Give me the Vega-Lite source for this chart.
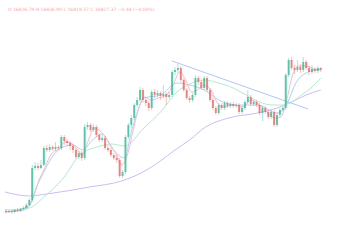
{
  "$schema": "https://vega.github.io/schema/vega-lite/v6.json",
  "width": 350,
  "height": 250,
  "autosize": {"type": "fit", "contains": "padding"},
  "padding": 0,
  "background": "#ffffff",
  "config": {"view": {"stroke": null}},
  "datasets": {
    "candles": [
      {"t":1,"o":39,"c":38,"h":41,"l":37},{"t":4,"o":38,"c":39,"h":40,"l":37},{"t":7,"o":39,"c":38,"h":40,"l":36},
      {"t":10,"o":38,"c":40,"h":41,"l":37},{"t":13,"o":40,"c":39,"h":42,"l":38},{"t":16,"o":39,"c":41,"h":42,"l":38},
      {"t":19,"o":41,"c":42,"h":44,"l":40},{"t":22,"o":42,"c":45,"h":47,"l":41},{"t":25,"o":45,"c":50,"h":52,"l":44},
      {"t":28,"o":50,"c":82,"h":85,"l":48},{"t":31,"o":82,"c":84,"h":88,"l":80},{"t":34,"o":84,"c":82,"h":87,"l":80},
      {"t":37,"o":82,"c":85,"h":90,"l":81},{"t":40,"o":85,"c":102,"h":104,"l":84},{"t":43,"o":102,"c":100,"h":105,"l":98},
      {"t":46,"o":100,"c":103,"h":106,"l":98},{"t":49,"o":103,"c":101,"h":105,"l":99},{"t":52,"o":101,"c":103,"h":108,"l":99},
      {"t":55,"o":103,"c":102,"h":105,"l":100},{"t":58,"o":102,"c":113,"h":115,"l":100},{"t":61,"o":113,"c":109,"h":115,"l":105},
      {"t":64,"o":109,"c":107,"h":111,"l":104},{"t":67,"o":107,"c":104,"h":109,"l":100},{"t":70,"o":104,"c":100,"h":106,"l":97},
      {"t":73,"o":100,"c":93,"h":102,"l":91},{"t":76,"o":93,"c":97,"h":99,"l":91},{"t":79,"o":97,"c":92,"h":99,"l":89},
      {"t":82,"o":92,"c":123,"h":126,"l":90},{"t":85,"o":123,"c":125,"h":128,"l":120},{"t":88,"o":125,"c":120,"h":127,"l":118},
      {"t":91,"o":120,"c":123,"h":126,"l":118},{"t":94,"o":123,"c":115,"h":125,"l":113},{"t":97,"o":115,"c":110,"h":117,"l":108},
      {"t":100,"o":110,"c":112,"h":115,"l":108},{"t":103,"o":112,"c":102,"h":114,"l":100},{"t":106,"o":102,"c":100,"h":105,"l":98},
      {"t":109,"o":100,"c":95,"h":102,"l":93},{"t":112,"o":95,"c":92,"h":97,"l":90},{"t":115,"o":92,"c":90,"h":95,"l":87},
      {"t":118,"o":90,"c":74,"h":92,"l":72},{"t":121,"o":74,"c":78,"h":80,"l":72},{"t":124,"o":78,"c":113,"h":115,"l":76},
      {"t":127,"o":113,"c":125,"h":127,"l":111},{"t":130,"o":125,"c":132,"h":135,"l":122},{"t":133,"o":132,"c":145,"h":147,"l":130},
      {"t":136,"o":145,"c":150,"h":153,"l":143},{"t":139,"o":150,"c":160,"h":163,"l":148},{"t":142,"o":160,"c":150,"h":162,"l":147},
      {"t":145,"o":150,"c":147,"h":153,"l":144},{"t":148,"o":147,"c":142,"h":149,"l":139},{"t":151,"o":142,"c":158,"h":160,"l":140},
      {"t":154,"o":158,"c":155,"h":161,"l":152},{"t":157,"o":155,"c":157,"h":160,"l":153},{"t":160,"o":157,"c":154,"h":159,"l":150},
      {"t":163,"o":154,"c":156,"h":165,"l":152},{"t":166,"o":156,"c":153,"h":158,"l":145},{"t":169,"o":153,"c":155,"h":158,"l":151},
      {"t":172,"o":155,"c":178,"h":180,"l":153},{"t":175,"o":178,"c":180,"h":183,"l":175},{"t":178,"o":180,"c":182,"h":186,"l":177},
      {"t":181,"o":182,"c":170,"h":184,"l":168},{"t":184,"o":170,"c":160,"h":172,"l":158},{"t":187,"o":160,"c":152,"h":162,"l":150},
      {"t":190,"o":152,"c":150,"h":154,"l":147},{"t":193,"o":150,"c":155,"h":157,"l":148},{"t":196,"o":155,"c":172,"h":175,"l":153},
      {"t":199,"o":172,"c":168,"h":174,"l":165},{"t":202,"o":168,"c":162,"h":170,"l":160},{"t":205,"o":162,"c":172,"h":174,"l":160},
      {"t":208,"o":172,"c":160,"h":174,"l":158},{"t":211,"o":160,"c":150,"h":162,"l":148},{"t":214,"o":150,"c":142,"h":152,"l":140},
      {"t":217,"o":142,"c":137,"h":144,"l":135},{"t":220,"o":137,"c":145,"h":147,"l":135},{"t":223,"o":145,"c":142,"h":147,"l":140},
      {"t":226,"o":142,"c":147,"h":149,"l":140},{"t":229,"o":147,"c":144,"h":149,"l":142},{"t":232,"o":144,"c":146,"h":148,"l":142},
      {"t":235,"o":146,"c":144,"h":148,"l":142},{"t":238,"o":144,"c":145,"h":147,"l":142},{"t":241,"o":145,"c":138,"h":147,"l":136},
      {"t":244,"o":138,"c":142,"h":144,"l":136},{"t":247,"o":142,"c":148,"h":150,"l":140},{"t":250,"o":148,"c":153,"h":160,"l":146},
      {"t":253,"o":153,"c":146,"h":155,"l":144},{"t":256,"o":146,"c":148,"h":150,"l":144},{"t":259,"o":148,"c":145,"h":150,"l":143},
      {"t":262,"o":145,"c":137,"h":147,"l":135},{"t":265,"o":137,"c":142,"h":144,"l":129},{"t":268,"o":142,"c":138,"h":144,"l":136},
      {"t":271,"o":138,"c":133,"h":140,"l":131},{"t":274,"o":133,"c":138,"h":140,"l":131},{"t":277,"o":138,"c":125,"h":140,"l":123},
      {"t":280,"o":125,"c":135,"h":137,"l":123},{"t":283,"o":135,"c":140,"h":142,"l":133},{"t":286,"o":140,"c":142,"h":144,"l":138},
      {"t":289,"o":142,"c":175,"h":177,"l":140},{"t":292,"o":175,"c":190,"h":192,"l":173},{"t":295,"o":190,"c":182,"h":193,"l":180},
      {"t":298,"o":182,"c":180,"h":185,"l":176},{"t":301,"o":180,"c":183,"h":190,"l":178},{"t":304,"o":183,"c":180,"h":186,"l":177},
      {"t":307,"o":180,"c":188,"h":193,"l":178},{"t":310,"o":188,"c":182,"h":190,"l":180},{"t":313,"o":182,"c":178,"h":184,"l":175},
      {"t":316,"o":178,"c":181,"h":185,"l":176},{"t":319,"o":181,"c":179,"h":183,"l":177},{"t":322,"o":179,"c":182,"h":184,"l":177},
      {"t":325,"o":182,"c":180,"h":183,"l":178}
    ],
    "mas": [
      {"s":"MA200","t":0,"v":58},{"s":"MA200","t":25,"v":54},{"s":"MA200","t":43,"v":56},{"s":"MA200","t":87,"v":63},
      {"s":"MA200","t":120,"v":69},{"s":"MA200","t":140,"v":77},{"s":"MA200","t":160,"v":89},{"s":"MA200","t":175,"v":100},
      {"s":"MA200","t":190,"v":110},{"s":"MA200","t":205,"v":122},{"s":"MA200","t":230,"v":132},{"s":"MA200","t":260,"v":137},
      {"s":"MA200","t":280,"v":142},{"s":"MA200","t":295,"v":148},{"s":"MA200","t":310,"v":155},{"s":"MA200","t":325,"v":160},
      {"s":"MA50","t":0,"v":40},{"s":"MA50","t":25,"v":42},{"s":"MA50","t":40,"v":53},{"s":"MA50","t":60,"v":72},
      {"s":"MA50","t":77,"v":95},{"s":"MA50","t":95,"v":103},{"s":"MA50","t":110,"v":106},{"s":"MA50","t":123,"v":104},
      {"s":"MA50","t":143,"v":122},{"s":"MA50","t":160,"v":138},{"s":"MA50","t":177,"v":158},{"s":"MA50","t":190,"v":166},
      {"s":"MA50","t":205,"v":170},{"s":"MA50","t":220,"v":167},{"s":"MA50","t":235,"v":162},{"s":"MA50","t":250,"v":154},
      {"s":"MA50","t":262,"v":148},{"s":"MA50","t":275,"v":145},{"s":"MA50","t":285,"v":145},{"s":"MA50","t":295,"v":148},
      {"s":"MA50","t":305,"v":155},{"s":"MA50","t":315,"v":162},{"s":"MA50","t":325,"v":172},
      {"s":"MA20","t":0,"v":38},{"s":"MA20","t":25,"v":44},{"s":"MA20","t":32,"v":62},{"s":"MA20","t":40,"v":78},
      {"s":"MA20","t":50,"v":95},{"s":"MA20","t":60,"v":103},{"s":"MA20","t":70,"v":105},{"s":"MA20","t":80,"v":100},
      {"s":"MA20","t":90,"v":110},{"s":"MA20","t":100,"v":116},{"s":"MA20","t":110,"v":102},{"s":"MA20","t":123,"v":92},
      {"s":"MA20","t":130,"v":118},{"s":"MA20","t":137,"v":140},{"s":"MA20","t":143,"v":152},{"s":"MA20","t":160,"v":155},
      {"s":"MA20","t":177,"v":167},{"s":"MA20","t":190,"v":165},{"s":"MA20","t":205,"v":160},{"s":"MA20","t":220,"v":150},
      {"s":"MA20","t":240,"v":145},{"s":"MA20","t":260,"v":145},{"s":"MA20","t":280,"v":137},{"s":"MA20","t":290,"v":146},
      {"s":"MA20","t":300,"v":168},{"s":"MA20","t":312,"v":178},{"s":"MA20","t":325,"v":181},
      {"s":"MA10","t":0,"v":38},{"s":"MA10","t":20,"v":40},{"s":"MA10","t":30,"v":55},{"s":"MA10","t":35,"v":70},
      {"s":"MA10","t":40,"v":80},{"s":"MA10","t":47,"v":95},{"s":"MA10","t":55,"v":101},{"s":"MA10","t":62,"v":108},
      {"s":"MA10","t":68,"v":107},{"s":"MA10","t":75,"v":100},{"s":"MA10","t":80,"v":95},{"s":"MA10","t":86,"v":110},
      {"s":"MA10","t":92,"v":122},{"s":"MA10","t":100,"v":117},{"s":"MA10","t":108,"v":106},{"s":"MA10","t":115,"v":95},
      {"s":"MA10","t":120,"v":85},{"s":"MA10","t":126,"v":95},{"s":"MA10","t":132,"v":120},{"s":"MA10","t":138,"v":143},
      {"s":"MA10","t":144,"v":153},{"s":"MA10","t":150,"v":150},{"s":"MA10","t":158,"v":152},{"s":"MA10","t":166,"v":155},
      {"s":"MA10","t":173,"v":165},{"s":"MA10","t":180,"v":178},{"s":"MA10","t":186,"v":170},{"s":"MA10","t":192,"v":158},
      {"s":"MA10","t":198,"v":160},{"s":"MA10","t":205,"v":165},{"s":"MA10","t":212,"v":160},{"s":"MA10","t":218,"v":148},
      {"s":"MA10","t":225,"v":143},{"s":"MA10","t":235,"v":145},{"s":"MA10","t":245,"v":143},{"s":"MA10","t":253,"v":150},
      {"s":"MA10","t":262,"v":145},{"s":"MA10","t":270,"v":138},{"s":"MA10","t":278,"v":132},{"s":"MA10","t":284,"v":133},
      {"s":"MA10","t":290,"v":150},{"s":"MA10","t":296,"v":175},{"s":"MA10","t":302,"v":184},{"s":"MA10","t":310,"v":184},
      {"s":"MA10","t":318,"v":181},{"s":"MA10","t":325,"v":180}
    ],
    "trend": [{"t":172,"v":189},{"t":312,"v":141}],
    "header": [{"t":3,"v":240,"label":"O 16826.79  H 16836.90  L 16818.37  C 16827.37  −0.44 (−0.00%)"}]
  },
  "encoding": {
    "x": {"field": "t", "type": "quantitative", "scale": {"domain": [0, 350], "nice": false, "zero": false}, "axis": null}
  },
  "layer": [
    {
      "mark": {"type": "rule", "color": "#f7c4c4", "strokeDash": [2, 2], "strokeWidth": 1},
      "encoding": {"x": {"datum": 0}, "x2": {"datum": 350}, "y": {"datum": 181, "scale": {"domain": [0, 250], "nice": false, "zero": false}, "axis": null}}
    },
    {
      "mark": {"type": "rule", "color": "#e6e6e6", "strokeWidth": 1},
      "encoding": {"x": {"datum": 0}, "x2": {"datum": 350}, "y": {"datum": 1}}
    },
    {
      "data": {"name": "mas"},
      "mark": {"type": "line", "interpolate": "monotone", "strokeWidth": 1},
      "encoding": {
        "y": {"field": "v", "type": "quantitative"},
        "detail": {"field": "s"},
        "color": {"field": "s", "type": "nominal", "legend": null,
          "scale": {"domain": ["MA200", "MA50", "MA20", "MA10"], "range": ["#cdbdf5", "#b3ecd0", "#b3cff7", "#f6bccd"]}}
      }
    },
    {
      "data": {"name": "trend"},
      "mark": {"type": "line", "color": "#b0c6f4", "strokeWidth": 1},
      "encoding": {"y": {"field": "v", "type": "quantitative"}}
    },
    {
      "data": {"name": "candles"},
      "mark": {"type": "rule", "strokeWidth": 1, "opacity": 0.35},
      "encoding": {
        "y": {"field": "l", "type": "quantitative"},
        "y2": {"field": "h"},
        "color": {"condition": {"test": "datum.c >= datum.o", "value": "#26a69a"}, "value": "#ef5350"}
      }
    },
    {
      "data": {"name": "candles"},
      "mark": {"type": "bar", "size": 2, "opacity": 0.75},
      "encoding": {
        "y": {"field": "o", "type": "quantitative"},
        "y2": {"field": "c"},
        "color": {"condition": {"test": "datum.c >= datum.o", "value": "#2cbf95"}, "value": "#f26262"}
      }
    },
    {
      "data": {"name": "header"},
      "mark": {"type": "text", "align": "left", "baseline": "middle", "fontSize": 4.5, "font": "DejaVu Sans", "color": "#f4aaaa"},
      "encoding": {"y": {"field": "v", "type": "quantitative"}, "text": {"field": "label"}}
    }
  ]
}
